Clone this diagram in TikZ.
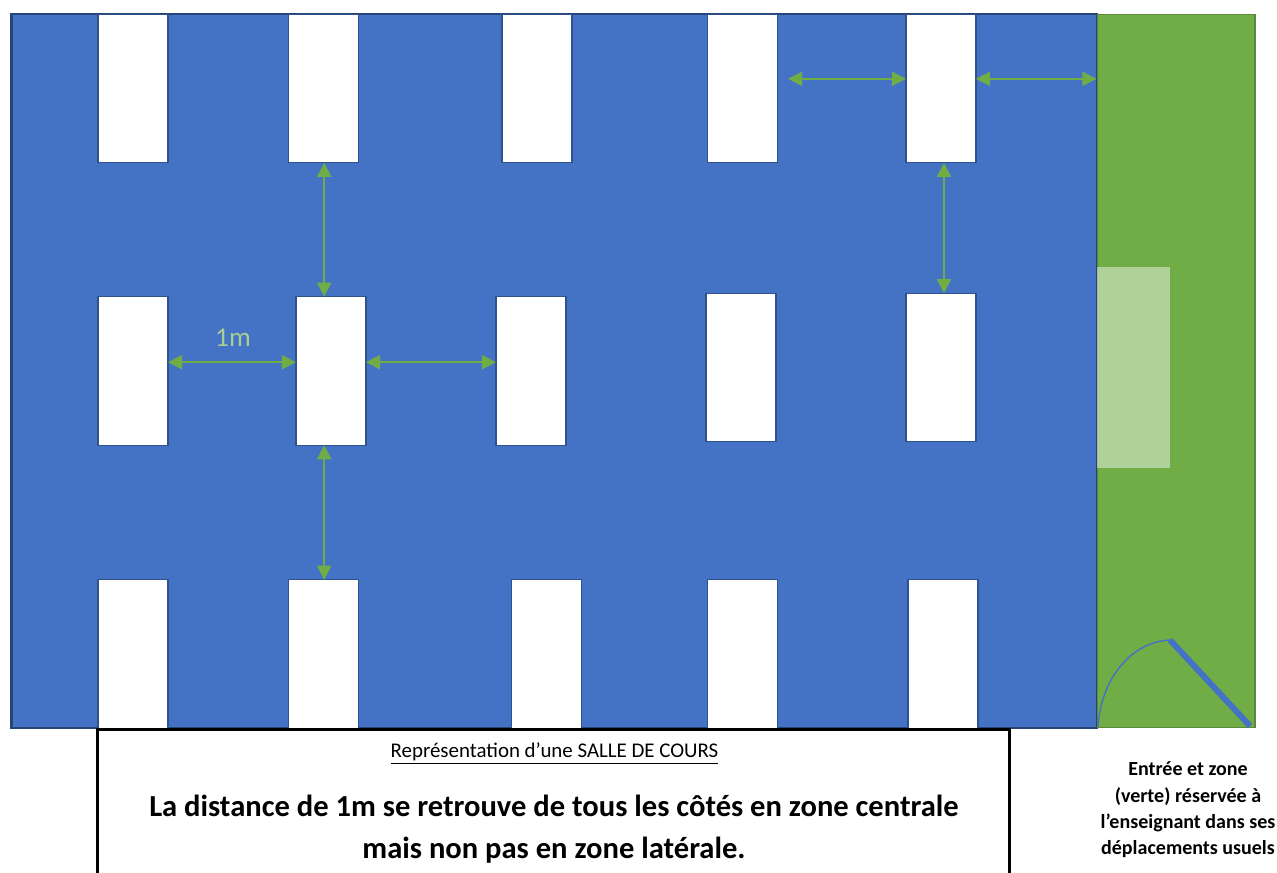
\documentclass[tikz,border=0pt]{standalone}
\usepackage{fontspec}
\setmainfont{Carlito}
\usetikzlibrary{arrows.meta,calc}
\definecolor{salleblue}{HTML}{4472C4}
\definecolor{salleline}{HTML}{2F528F}
\definecolor{salledark}{HTML}{264478}
\definecolor{zonegreen}{HTML}{70AD47}
\tikzset{
  desk/.style={draw=salleline, line width=0.6pt, fill=white, inner sep=0, outer sep=0, minimum width=1.4cm, minimum height=2.97cm},
  dist/.style={{Triangle[length=8pt,width=8pt]}-{Triangle[length=8pt,width=8pt]}, draw=zonegreen, line width=1.1pt},
}
\begin{document}
\begin{tikzpicture}[x=0.02cm, y=-0.02cm]
    \useasboundingbox (0, 0) rectangle (1277, 872);

    \node [draw=salledark, line width=1.6pt, fill=salleblue, inner sep=0, minimum width=21.72cm, minimum height=14.28cm] (salle) at (554, 371) {};
    \node [draw=zonegreen!80!black, line width=0.6pt, fill=zonegreen, inner sep=0, minimum width=3.16cm, minimum height=14.28cm] (zone) at (1176, 371) {};
    \node [fill=white, fill opacity=0.45, inner sep=0, minimum width=1.46cm, minimum height=4.02cm] (estrade) at (1133.5, 367.5) {};

    \node [desk] (d11) at (133, 88.5) {};
    \node [desk] (d12) at (323.5, 88.5) {};
    \node [desk] (d13) at (537, 88.5) {};
    \node [desk] (d14) at (742.5, 88.5) {};
    \node [desk] (d15) at (941, 88.5) {};

    \node [desk] (d21) at (133, 371) {};
    \node [desk] (d22) at (331, 371) {};
    \node [desk] (d23) at (531, 371) {};
    \node [desk] (d24) at (741, 367.5) {};
    \node [desk] (d25) at (941, 367.5) {};

    \node [desk] (d31) at (133, 654) {};
    \node [desk] (d32) at (323.5, 654) {};
    \node [desk] (d33) at (546.5, 654) {};
    \node [desk] (d34) at (742.5, 654) {};
    \node [desk] (d35) at (943, 654) {};

    \draw [dist] ([yshift=5pt]d21.east) -- ([yshift=5pt]d22.west);
    \draw [dist] ([yshift=5pt]d22.east) -- ([yshift=5pt]d23.west);
    \draw [dist] ([xshift=0.4pt]d12.south) -- ([xshift=0.4pt]d12.south |- d22.north);
    \draw [dist] ([xshift=0.4pt]d32.north) -- ([xshift=0.4pt]d32.north |- d22.south);
    \draw [dist] ([xshift=1.7pt]d15.south) -- ([xshift=1.7pt]d25.north);
    \draw [dist] ([xshift=6pt,yshift=5.5pt]d14.east) -- ([yshift=5.5pt]d15.west);
    \draw [dist] ([yshift=5.5pt]d15.east) -- ([yshift=5.5pt]d15.east -| zone.west);

    \node [text=zonegreen!60!white, font=\fontsize{15.5}{15.5}\selectfont] (unm) at (233, 338) {1m};

    % porte
    \coordinate (gond) at (1250, 726);
    \coordinate (battant) at (1170, 640);
    \coordinate (seuil) at (1098, 726);
    \draw [salleblue, line width=3.4pt] (gond) -- (battant);
    \draw [salleblue, line width=0.8pt] (seuil) .. controls (1101, 680) and (1130, 642) .. (battant);

    \node [draw=black, line width=1.7pt, fill=white, inner sep=0, minimum width=18.26cm, minimum height=4cm, anchor=north] (cadre) at (553.5, 728) {};

    \node [font=\fontsize{11.9}{14}\selectfont] (titre) at (554.5, 754) {\underline{Représentation d’une SALLE DE COURS}};
    \node [font=\fontsize{17.4}{23.8}\selectfont\bfseries, align=center] (message) at (554, 829) {La distance de 1m se retrouve de tous les côtés en zone centrale\\mais non pas en zone latérale.};
    \node [font=\fontsize{11.4}{15}\selectfont\bfseries, align=center] (entree) at (1188, 810) {Entrée et zone\\(verte) réservée à\\l’enseignant dans ses\\déplacements usuels};
  \end{tikzpicture}
\end{document}
